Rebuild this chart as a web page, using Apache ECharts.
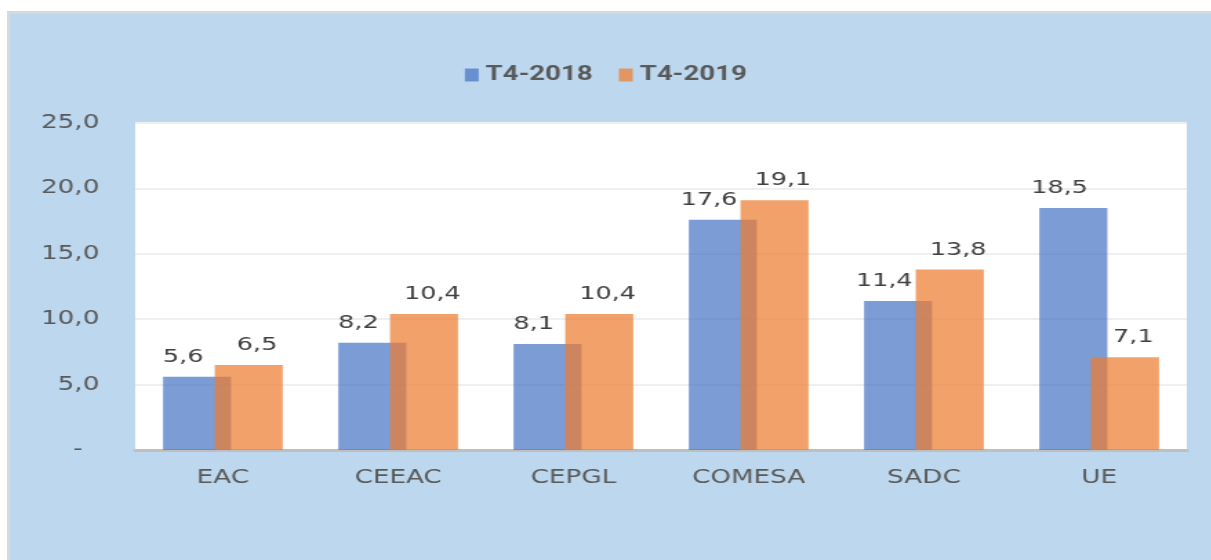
<!DOCTYPE html>
<html>
<head>
<meta charset="utf-8">
<script src="https://cdn.jsdelivr.net/npm/echarts@6/dist/echarts.min.js"></script>
<style>
  body { margin: 0; background: #fff; }
  #frame { position: absolute; left: 7px; top: 11px; right: 0; bottom: 0; background: #d9d9d9; }
  #panel { position: absolute; left: 10px; top: 14px; right: 0; bottom: 0; background: #bdd7ee; }
  /* the source picture is stretched sideways, so the chart is drawn narrow and widened */
  #chart { position: absolute; left: 0; top: 0; width: 878px; height: 560px;
           transform: scaleX(1.38); transform-origin: 0 0; }
</style>
</head>
<body>
<div id="frame"></div>
<div id="panel"></div>
<div id="chart"></div>
<script>
var categories = ['EAC', 'CEEAC', 'CEPGL', 'COMESA', 'SADC', 'UE'];
var seriesNames = ['T4-2018', 'T4-2019'];
var t4_2018 = [5.6, 8.2, 8.1, 17.6, 11.4, 18.5];
var t4_2019 = [6.5, 10.4, 10.4, 19.1, 13.8, 7.1];
var yMin = 0, yMax = 25, yStep = 5;

function fr(v) {
    return v.toFixed(1).replace('.', ',');
}

var chart = echarts.init(document.getElementById('chart'));

var labelStyle = {
    show: true,
    position: 'top',
    distance: 10,
    fontFamily: 'DejaVu Sans',
    fontSize: 18.5,
    color: '#404040',
    formatter: function (p) { return fr(p.value); }
};

var option = {
    animation: false,
    backgroundColor: 'transparent',
    legend: {
	data: seriesNames,
	left: 'center',
	top: 60,
	itemWidth: 10,
	itemHeight: 13,
	itemGap: 19,
	icon: 'rect',
	textStyle: { fontFamily: 'Roboto', fontWeight: 'bold', fontSize: 20, color: '#595959' }
    },
    grid: {
	show: true,
	left: 98,
	right: 18,
	top: 123,
	bottom: 110,
	backgroundColor: '#fff',
	borderWidth: 0
    },
    xAxis: {
	type: 'category',
	data: categories,
	axisLine: { lineStyle: { color: '#bfbfbf', width: 3 } },
	axisTick: { show: false },
	axisLabel: { margin: 19, fontFamily: 'DejaVu Sans', fontSize: 19, color: '#595959' }
    },
    yAxis: {
	type: 'value',
	min: yMin,
	max: yMax,
	interval: yStep,
	axisLine: { show: false },
	axisTick: { show: false },
	splitLine: { lineStyle: { color: '#efefef', width: 2 } },
	axisLabel: {
	    margin: 26,
	    fontFamily: 'DejaVu Sans',
	    fontSize: 19,
	    color: '#595959',
	    formatter: function (v) { return v === 0 ? '-  ' : fr(v); }
	}
    },
    series: [
	{
	    name: seriesNames[0],
	    type: 'bar',
	    data: t4_2018,
	    barWidth: '38.8%',
	    barGap: '-24%',
	    itemStyle: { color: 'rgba(68,114,196,0.7)' },
	    label: Object.assign({}, labelStyle, { offset: [-10, 0] })
	},
	{
	    name: seriesNames[1],
	    type: 'bar',
	    data: t4_2019,
	    barWidth: '38.8%',
	    barGap: '-24%',
	    itemStyle: { color: 'rgba(237,125,49,0.72)' },
	    label: Object.assign({}, labelStyle, { offset: [6, 0] })
	}
    ]
};

chart.setOption(option);
</script>
</body>
</html>
